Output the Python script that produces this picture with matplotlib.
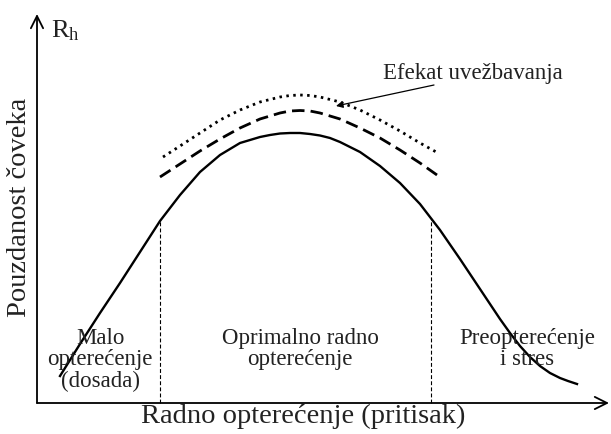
import matplotlib
matplotlib.use("Agg")
import matplotlib.pyplot as plt

plt.rcParams['font.family'] = ['Liberation Serif', 'DejaVu Serif']
plt.rcParams['mathtext.fontset'] = 'custom'
plt.rcParams['mathtext.rm'] = 'Liberation Serif'
plt.rcParams['mathtext.it'] = 'Liberation Serif'

# curves (pixel space, y grows downward)
solid_x = [60, 80, 100, 120, 140, 160, 180, 200, 220, 240, 260, 270, 280, 290,
           300, 310, 320, 330, 340, 360, 380, 400, 420, 440, 460, 480, 500,
           510, 520, 530, 540, 550, 560, 568, 577]
solid_y = [376, 344, 313, 283, 252, 221, 195, 172, 155, 143, 137, 135, 133.5, 133,
           133, 134, 135.5, 138, 142, 152, 166, 183, 204, 230, 259, 289, 319,
           333, 346, 357, 366, 373, 378, 381, 384]

dashed_x = [160, 180, 200, 220, 240, 260, 280, 290, 300, 310, 320, 340, 360,
            380, 400, 420, 437]
dashed_y = [177, 164, 151, 139, 128, 119, 113, 111, 110.5, 111, 113, 119, 128,
            138, 150, 163, 175]

dotted_x = [163, 180, 200, 220, 240, 260, 280, 290, 300, 310, 320, 340, 360,
            380, 400, 420, 438]
dotted_y = [157, 146, 133, 120, 110, 102, 97, 95.5, 95, 95.5, 97, 102, 110,
            120, 131, 143, 153]

zone_edges = [160, 431]
zone_tops = [221, 218]
zone_labels = ["Malo\nopterećenje\n(dosada)",
               "Oprimalno radno\nopterećenje",
               "Preopterećenje\ni stres"]
zone_label_x = [100, 300, 527]

origin = (37, 403)

fig = plt.figure(figsize=(6.11, 4.34), dpi=100)
ax = fig.add_axes([0, 0, 1, 1])
ax.set_xlim(0, 611)
ax.set_ylim(434, 0)
ax.axis('off')

# axes with open arrow heads
ax.annotate('', xy=(37, 14), xytext=origin,
            arrowprops=dict(arrowstyle='->', lw=1.3, color='black',
                            mutation_scale=22, shrinkA=0, shrinkB=0))
ax.annotate('', xy=(609, 403), xytext=origin,
            arrowprops=dict(arrowstyle='->', lw=1.3, color='black',
                            mutation_scale=22, shrinkA=0, shrinkB=0))

ax.plot(solid_x, solid_y, color='black', lw=1.7, solid_joinstyle='round')
ax.plot(dashed_x, dashed_y, color='black', lw=2.0, dashes=(4.5, 2.2))
ax.plot(dotted_x, dotted_y, color='black', lw=2.0, dashes=(0.9, 1.6))

for ex, top in zip(zone_edges, zone_tops):
    ax.plot([ex, ex], [403, top], color='black', lw=0.8, dashes=(3.5, 2))

for lx, lab in zip(zone_label_x, zone_labels):
    ax.text(lx, 328, lab, ha='center', va='top', fontsize=16.5,
            linespacing=1.02, color='#222222')

ax.text(20, 207, "Pouzdanost čoveka", rotation=90, ha='center',
        va='center', fontsize=20.5, color='#222222')
ax.text(303, 416, "Radno opterećenje (pritisak)", ha='center',
        va='center', fontsize=20.5, color='#222222')
ax.text(51, 31, r"R$_\mathrm{h}$", ha='left', va='center', fontsize=19,
        color='#222222')

ax.text(473, 73, "Efekat uvežbavanja", ha='center', va='center',
        fontsize=16.5, color='#222222')
ax.annotate('', xy=(336, 106), xytext=(434, 85),
            arrowprops=dict(arrowstyle='-|>', lw=0.9, color='black',
                            mutation_scale=10, shrinkA=0, shrinkB=0))

fig.savefig('out.png', dpi=100)
